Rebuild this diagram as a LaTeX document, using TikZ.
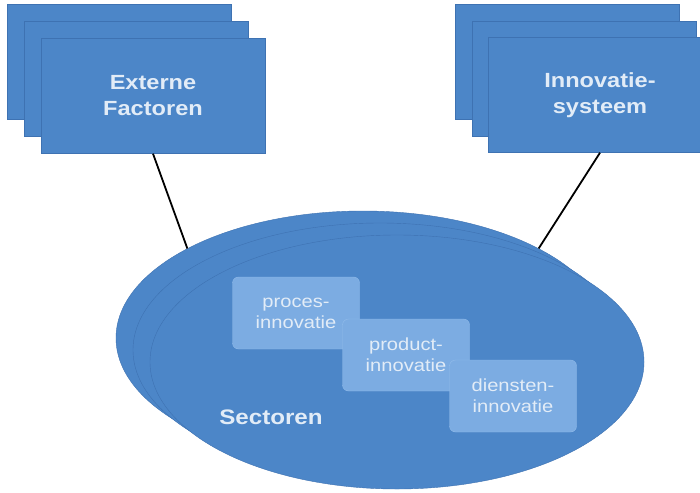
\documentclass[tikz,border=0pt]{standalone}
\usepackage{fontspec}
\setmainfont{Liberation Sans}
\newfontfamily\widesans[FakeStretch=1.15]{Liberation Sans}
\usetikzlibrary{shapes.geometric}

\definecolor{boxblue}{RGB}{76,134,200}
\definecolor{boxline}{RGB}{62,114,178}
\definecolor{innofill}{RGB}{124,172,226}
\definecolor{innoline}{RGB}{146,188,234}
\definecolor{lighttext}{RGB}{226,236,247}

\tikzset{
  factor/.style={draw=boxline, fill=boxblue, minimum width=224pt,
    minimum height=115pt, inner sep=0pt, text=lighttext, align=center,
    font=\widesans\bfseries\fontsize{20.5}{26}\selectfont},
  sector/.style={ellipse, draw=boxline, fill=boxblue, minimum width=494pt,
    minimum height=254pt, inner sep=0pt},
  innobox/.style={draw=innoline, fill=innofill, rounded corners=6pt,
    minimum width=127pt, minimum height=72pt, inner sep=0pt, align=center,
    text=lighttext, font=\widesans\fontsize{17.5}{21}\selectfont},
}

\begin{document}
\begin{tikzpicture}[x=1pt, y=-1pt]
      \useasboundingbox (0,0) rectangle (700,492);
      \clip (0,0) rectangle (700,492);
      \fill[white] (0,0) rectangle (700,492);
      \path
        (119,62) node[factor] (ext1){}
        (136,79) node[factor] (ext2){}
        (153,96) node[factor] (ext3){Externe\\Factoren}
        (567,62) node[factor] (sys1){}
        (584,79) node[factor] (sys2){}
        (600,95) node[factor] (sys3){Innovatie-\\systeem};
      \path
        (363,338) node[sector] (sect1){}
        (380,350) node[sector] (sect2){}
        (397,362) node[sector] (sect3){};
      \begin{scope}[-, line width=1.8pt]
        \draw (ext3.south) to (sect1.153);
        \draw (sys3.south) to (sect1.27);
      \end{scope}
      \path
        (296,313) node[innobox] (proces){proces-\\innovatie}
        (406,355) node[innobox] (product){product-\\innovatie}
        (513,396) node[innobox] (diensten){diensten-\\innovatie}
        (271,417) node[text=lighttext, font=\widesans\bfseries\fontsize{21}{24}\selectfont] (sectlabel){Sectoren};
    \end{tikzpicture}
\end{document}
